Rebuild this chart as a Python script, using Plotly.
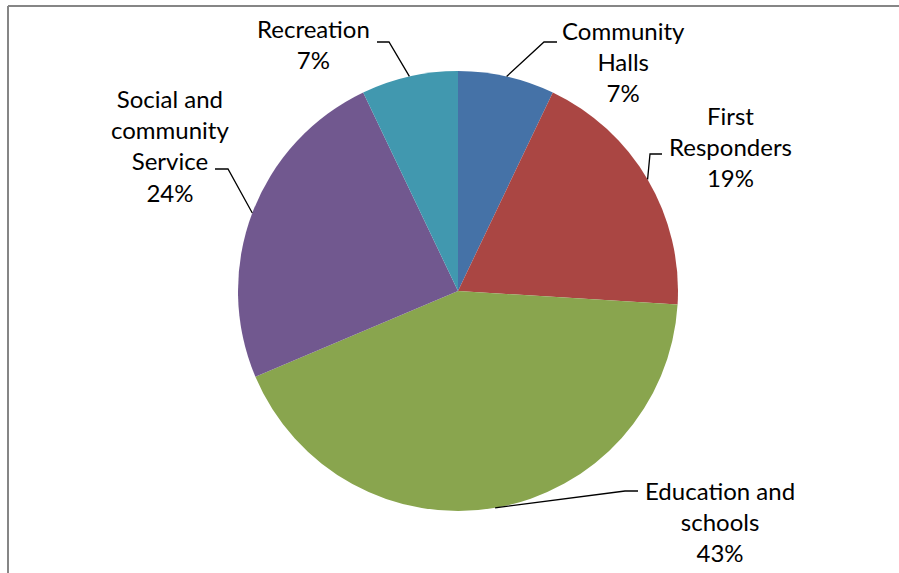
import math
import plotly.graph_objects as go

# ---- data ----
categories = ["Community<br>Halls", "First<br>Responders", "Education and<br>schools",
              "Social and<br>community<br>Service", "Recreation"]
values = [7.1, 18.9, 42.7, 24.3, 7.1]
colors = ["#4572A7", "#AA4643", "#89A54E", "#71588F", "#4198AF"]

W, H = 899, 573
CX, CY, R = 458, 291, 220  # pie centre / radius in px (layout)

# label layout: text centre (px), elbow point, end point of leader
label_pos = [(623, 62), (730, 146), (720, 521), (170, 145), (313, 44)]
elbows = [((544, 42), (557, 42)), ((650, 154), (662, 154)), ((625, 491), (638, 491)),
          ((228, 169), (215, 169)), ((389, 42), (377, 42))]

def px(x):
    return x / W

def py(y):
    return 1 - y / H

fig = go.Figure(go.Pie(
    labels=[c.replace("<br>", " ") for c in categories],
    values=values,
    marker=dict(colors=colors, line=dict(width=0)),
    sort=False, direction="clockwise", rotation=0,
    textinfo="none", hoverinfo="label+percent",
    domain=dict(x=[px(CX - R), px(CX + R)], y=[py(CY + R), py(CY - R)]),
    showlegend=False,
))

total = sum(values)
shapes = []
annotations = []
cum = 0
for cat, v, (tx, ty), (e1, e2) in zip(categories, values, label_pos, elbows):
    mid = (cum + v / 2) / total * 2 * math.pi
    cum += v
    ex = CX + R * math.sin(mid)
    ey = CY - R * math.cos(mid)
    path = f"M {px(ex)},{py(ey)} L {px(e1[0])},{py(e1[1])} L {px(e2[0])},{py(e2[1])}"
    shapes.append(dict(type="path", xref="paper", yref="paper", path=path,
                       line=dict(color="black", width=1.3)))
    pct = round(v / total * 100)
    annotations.append(dict(x=px(tx), y=py(ty), xref="paper", yref="paper",
                            text=f"{cat}<br>{pct}%", showarrow=False,
                            xanchor="center", yanchor="middle", align="center",
                            font=dict(family="Lato", size=24, color="black")))

# chart frame (left and top edges visible)
shapes.append(dict(type="line", xref="paper", yref="paper", x0=px(8), x1=px(8), y0=py(6), y1=py(580),
                   line=dict(color="#868686", width=2)))
shapes.append(dict(type="line", xref="paper", yref="paper", x0=px(8), x1=px(905), y0=py(6), y1=py(6),
                   line=dict(color="#868686", width=2)))

fig.update_layout(
    width=W, height=H,
    margin=dict(l=0, r=0, t=0, b=0),
    paper_bgcolor="white", plot_bgcolor="white",
    shapes=shapes, annotations=annotations,
)

fig.write_html("out.html")
